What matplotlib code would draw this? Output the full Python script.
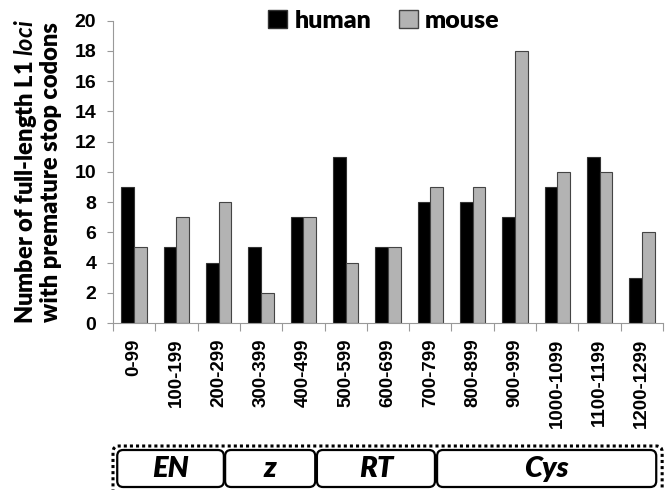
import numpy as np
import matplotlib
matplotlib.use("Agg")
import matplotlib.pyplot as plt
from matplotlib.patches import FancyBboxPatch, Patch

plt.rcParams['mathtext.fontset'] = 'custom'
plt.rcParams['mathtext.it'] = 'Lato:italic:bold'

bins = ['0-99', '100-199', '200-299', '300-399', '400-499', '500-599', '600-699',
        '700-799', '800-899', '900-999', '1000-1099', '1100-1199', '1200-1299']
human = [9, 5, 4, 5, 7, 11, 5, 8, 8, 7, 9, 11, 3]
mouse = [5, 7, 8, 2, 7, 4, 5, 9, 9, 18, 10, 10, 6]

# protein domains (amino acid positions)
domain_names = ['EN', 'z', 'RT', 'Cys']
domain_start = [10, 265, 482, 766]
domain_end = [262, 478, 761, 1284]

W, H = 669, 490
fig = plt.figure(figsize=(W / 100, H / 100), dpi=100)
ax = fig.add_axes([113 / W, 1 - 323 / H, 550 / W, (323 - 20.7) / H])

x = np.arange(len(bins))
bw = 0.3
ax.bar(x - bw / 2, human, bw, color='black', edgecolor='#333333', linewidth=0.8, label='human')
ax.bar(x + bw / 2, mouse, bw, color='#b3b3b3', edgecolor='#444444', linewidth=0.8, label='mouse')

ax.set_xlim(-0.5, len(bins) - 0.5)
ax.set_ylim(0, 20)
ax.set_yticks(range(0, 21, 2))
ax.set_xticks(x)
ax.set_xticklabels(bins, rotation=90, fontsize=13.5, fontweight='bold', family='Liberation Sans')
ax.set_xticks(np.arange(-0.5, len(bins)), minor=True)
ax.tick_params(axis='x', which='major', length=0, pad=11)
ax.tick_params(axis='x', which='minor', length=6, color='#999999', width=0.8)
ax.tick_params(axis='y', length=4, color='#999999', width=0.8, pad=8)
for lab in ax.get_yticklabels():
    lab.set_fontsize(14)
    lab.set_fontweight('bold')
    lab.set_family('Liberation Sans')
for s in ['top', 'right']:
    ax.spines[s].set_visible(False)
for s in ['left', 'bottom']:
    ax.spines[s].set_color('#999999')
    ax.spines[s].set_linewidth(0.8)

ax.set_ylabel('Number of full-length L1 $\\it{loci}$\nwith premature stop codons',
              fontsize=17, fontweight='heavy', family='Lato', labelpad=9, linespacing=1.08)

handles = [Patch(facecolor='black', edgecolor='#333333'), Patch(facecolor='#b3b3b3', edgecolor='#444444')]
fig.legend(handles, ['human', 'mouse'], loc='center', bbox_to_anchor=(384 / W, 1 - 20.5 / H),
           ncol=2, frameon=False, handlelength=0.75, handleheight=0.75, handletextpad=0.3,
           columnspacing=1.1, prop={'family': 'Lato', 'weight': 'heavy', 'size': 18})

# domain diagram below the axis, in pixel units
def px(aa):
    return ax.transData.transform((aa / 100 - 0.5, 0))[0]

outer = FancyBboxPatch((px(0) / 100, (H - 496) / 100), (px(1298) - px(0)) / 100, 50 / 100,
                       boxstyle='round,pad=0,rounding_size=0.06', transform=fig.dpi_scale_trans,
                       fill=False, linestyle=(0, (1, 1)), linewidth=2.2, edgecolor='black')
fig.patches.append(outer)
for name, a, b in zip(domain_names, domain_start, domain_end):
    x0, x1 = px(a), px(b)
    box = FancyBboxPatch((x0 / 100, (H - 487) / 100), (x1 - x0) / 100, 37 / 100,
                         boxstyle='round,pad=0,rounding_size=0.06', transform=fig.dpi_scale_trans,
                         fill=False, linewidth=1.6, edgecolor='black')
    fig.patches.append(box)
    fig.text((x0 + x1) / 2 / W, 1 - 469 / H, name, ha='center', va='center',
             fontsize=21, fontweight='heavy', fontstyle='italic', family='Lato')

fig.savefig('out.png', dpi=100)
